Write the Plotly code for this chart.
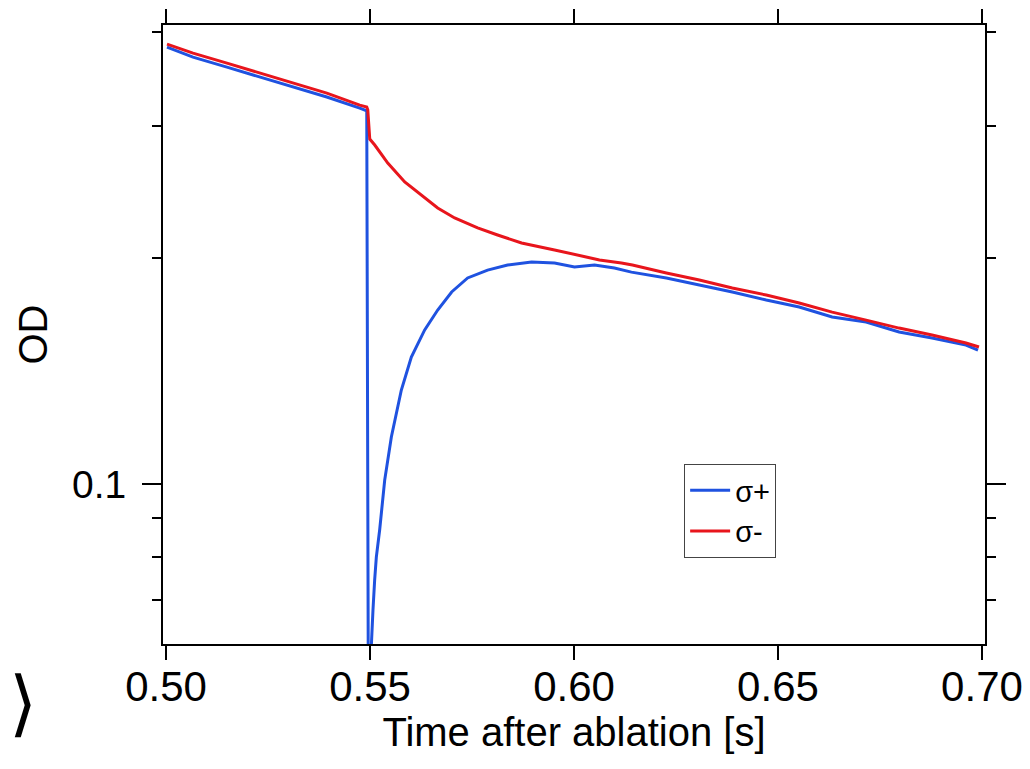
import plotly.graph_objects as go

# sigma+ (blue) trace
t_plus = [0.50024, 0.50661, 0.51493, 0.52301, 0.53109, 0.53941, 0.54749, 0.54895,
          0.54920, 0.54960, 0.55031, 0.55073, 0.55114, 0.55155, 0.55237, 0.55360,
          0.55523, 0.55768, 0.56013, 0.56340, 0.56659, 0.57001, 0.57393, 0.57882,
          0.58372, 0.58960, 0.59523, 0.60012, 0.60502, 0.60991, 0.61408, 0.62264,
          0.63072, 0.63880, 0.64712, 0.65520, 0.66328, 0.67161, 0.67968, 0.68776,
          0.69608, 0.69902]
od_plus = [0.3818, 0.3703, 0.3591, 0.3482, 0.3378, 0.3276, 0.3167, 0.3148,
           0.3140, 0.0500, 0.0620, 0.0680, 0.0745, 0.0799, 0.0869, 0.1012,
           0.1155, 0.1334, 0.1476, 0.1604, 0.1705, 0.1802, 0.1881, 0.1927,
           0.1957, 0.1975, 0.1969, 0.1945, 0.1957, 0.1939, 0.1915, 0.1881,
           0.1841, 0.1802, 0.1758, 0.1721, 0.1669, 0.1643, 0.1594, 0.1565,
           0.1531, 0.1508]

# sigma- (red) trace
t_minus = [0.50024, 0.50661, 0.51493, 0.52301, 0.53109, 0.53941, 0.54749, 0.54920,
           0.54945, 0.54994, 0.55116, 0.55435, 0.55851, 0.56267, 0.56659, 0.57075,
           0.57638, 0.58127, 0.58715, 0.59523, 0.60330, 0.60624, 0.61163, 0.61432,
           0.62264, 0.63072, 0.63880, 0.64712, 0.65520, 0.66328, 0.67161, 0.67968,
           0.68776, 0.69608, 0.69927]
od_minus = [0.3854, 0.3749, 0.3635, 0.3525, 0.3420, 0.3316, 0.3196, 0.3177,
            0.3150, 0.2880, 0.2828, 0.2676, 0.2525, 0.2426, 0.2331, 0.2261,
            0.2193, 0.2146, 0.2094, 0.2050, 0.2006, 0.1988, 0.1969, 0.1957,
            0.1910, 0.1869, 0.1824, 0.1785, 0.1742, 0.1694, 0.1653, 0.1613,
            0.1579, 0.1541, 0.1522]

x_ticks = [0.50, 0.55, 0.60, 0.65, 0.70]
x_ticklabels = ["0.50", "0.55", "0.60", "0.65", "0.70"]
y_major = [0.1]
y_major_labels = ["0.1"]
y_minor = [0.07, 0.08, 0.09, 0.2, 0.3, 0.4]

FONT = "Liberation Sans, Arial, sans-serif"

fig = go.Figure()
fig.add_trace(go.Scatter(x=t_plus, y=od_plus, mode="lines", name="σ+",
                         line=dict(color="#1f52e0", width=3)))
fig.add_trace(go.Scatter(x=t_minus, y=od_minus, mode="lines", name="σ-",
                         line=dict(color="#e8151c", width=3)))

fig.update_layout(
    width=1030, height=769,
    margin=dict(l=155, r=53, t=17, b=133),
    paper_bgcolor="white", plot_bgcolor="white",
    font=dict(family=FONT, size=40, color="black"),
    showlegend=True,
    legend=dict(x=0.634, y=0.2908, xanchor="left", yanchor="top",
                bgcolor="white", bordercolor="#444444", borderwidth=1,
                font=dict(family=FONT, size=29, color="black"),
                tracegroupgap=0, itemwidth=40),
    xaxis=dict(range=[0.49926, 0.70074], tickmode="array", tickvals=x_ticks,
               ticktext=x_ticklabels, ticks="outside", ticklen=14, tickwidth=2,
               tickcolor="black", showline=True, linewidth=2, linecolor="black",
               mirror="ticks", showgrid=False, zeroline=False, automargin=False,
               tickfont=dict(size=42), ticklabelstandoff=-9,
               title=dict(text="Time after ablation [s]", standoff=2,
                          font=dict(size=40))),
    yaxis=dict(type="log", range=[-1.2131, -0.3887], tickmode="array",
               tickvals=y_major, ticktext=y_major_labels, ticks="outside",
               ticklen=19, tickwidth=2, tickcolor="black", showline=True,
               linewidth=2, linecolor="black", mirror="ticks", showgrid=False,
               zeroline=False, automargin=False,
               tickfont=dict(size=39), ticklabelstandoff=8,
               minor=dict(tickmode="array", tickvals=y_minor, ticks="outside",
                          ticklen=9, tickwidth=2, tickcolor="black", showgrid=False),
               title=dict(text="OD", standoff=12, font=dict(size=40))),
)

fig.add_annotation(text="⟩", xref="paper", yref="paper", x=-0.1885, y=-0.0961,
                   xanchor="left", yanchor="middle", showarrow=False,
                   borderpad=0,
                   font=dict(family="DejaVu Sans", size=72, color="black"))

fig.write_html("out.html")
